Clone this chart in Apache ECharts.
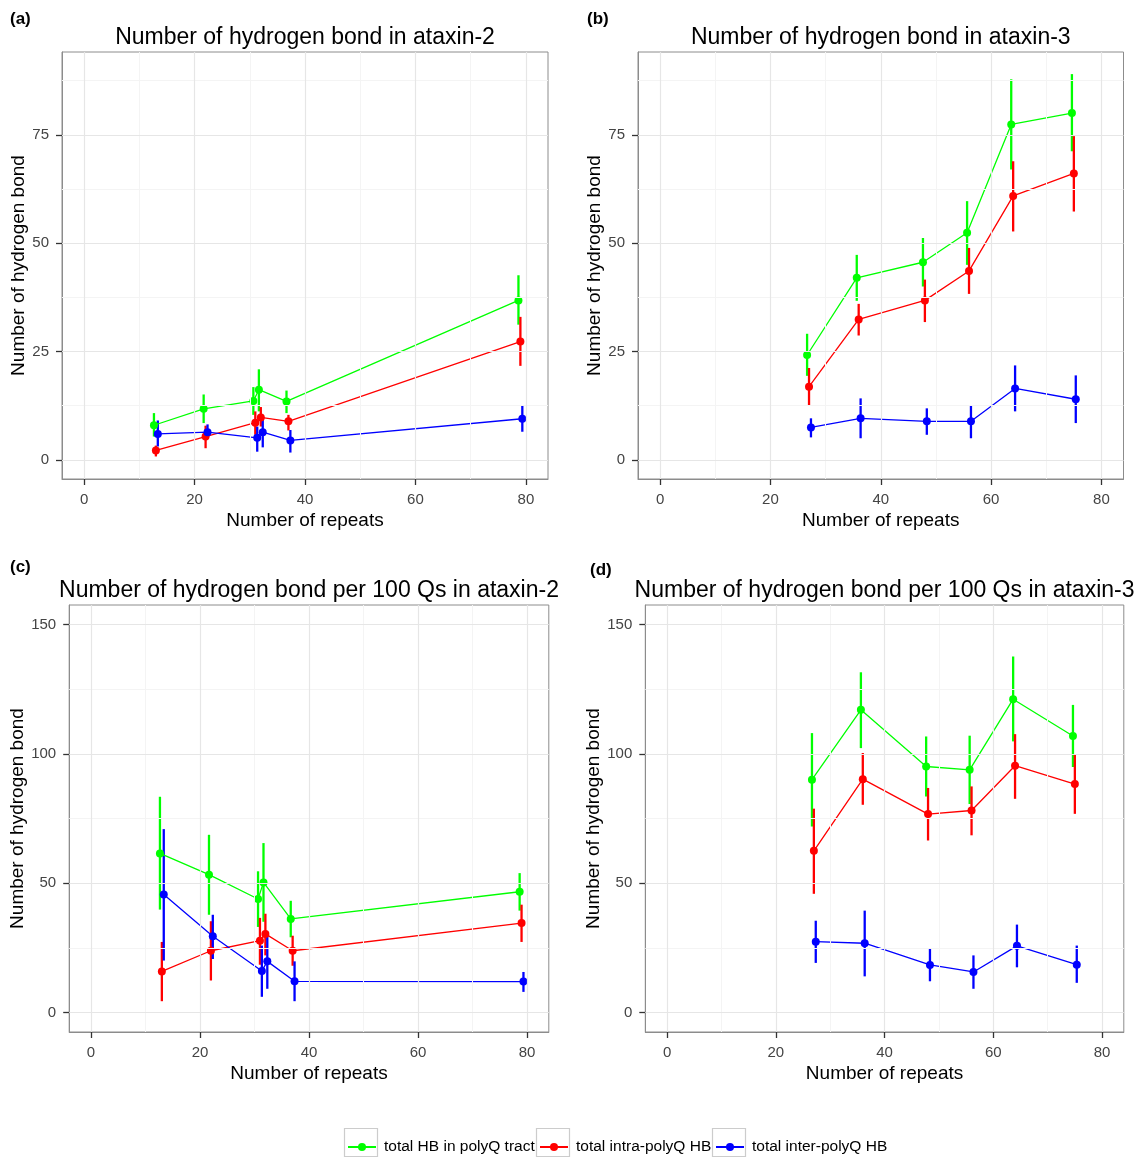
<!DOCTYPE html>
<html>
<head>
<meta charset="utf-8">
<script src="https://cdn.jsdelivr.net/npm/echarts@6/dist/echarts.min.js"></script>
<style>
html,body{margin:0;padding:0;background:#fff;}
#chart{width:1139px;height:1157px;}
</style>
</head>
<body>
<div id="chart"></div>
<script>
// ---------- data ----------
const seriesNames = ['total HB in polyQ tract', 'total intra-polyQ HB', 'total inter-polyQ HB'];
const repeatsAtaxin2 = [13, 22, 31, 32, 37, 79];
const repeatsAtaxin3 = [27, 36, 48, 56, 64, 75];

// (a) Number of hydrogen bond in ataxin-2
const countAtx2TotalMean = [8.0, 11.8, 13.6, 16.2, 13.5, 36.8];
const countAtx2TotalLow  = [5.4, 8.5, 10.4, 11.2, 10.8, 31.2];
const countAtx2TotalHigh = [10.8, 15.1, 16.8, 20.9, 16.0, 42.6];
const countAtx2IntraMean = [2.2, 5.4, 8.6, 9.8, 8.9, 27.3];
const countAtx2IntraLow  = [0.8, 2.7, 5.8, 7.7, 6.8, 21.7];
const countAtx2IntraHigh = [3.3, 7.9, 11.2, 12.2, 10.4, 33.0];
const countAtx2InterMean = [6.0, 6.4, 5.1, 6.4, 4.5, 9.5];
const countAtx2InterLow  = [3.1, 5.4, 1.9, 2.9, 1.7, 6.5];
const countAtx2InterHigh = [9.1, 8.2, 7.7, 9.4, 6.9, 12.5];

// (b) Number of hydrogen bond in ataxin-3
const countAtx3TotalMean = [24.2, 42.0, 45.6, 52.4, 77.4, 80.0];
const countAtx3TotalLow  = [19.4, 36.7, 40.0, 45.0, 67.0, 71.2];
const countAtx3TotalHigh = [29.1, 47.3, 51.2, 59.7, 87.8, 89.0];
const countAtx3IntraMean = [16.9, 32.4, 36.8, 43.6, 60.9, 66.1];
const countAtx3IntraLow  = [12.5, 28.7, 31.8, 38.3, 52.7, 57.3];
const countAtx3IntraHigh = [21.2, 36.0, 41.6, 48.9, 68.9, 74.7];
const countAtx3InterMean = [7.5, 9.6, 8.9, 8.9, 16.5, 14.0];
const countAtx3InterLow  = [5.2, 5.0, 5.8, 5.0, 11.2, 8.5];
const countAtx3InterHigh = [9.6, 14.2, 11.9, 12.5, 21.8, 19.5];

// (c) Number of hydrogen bond per 100 Qs in ataxin-2
const per100Atx2TotalMean = [61.5, 53.3, 43.9, 50.3, 36.2, 46.7];
const per100Atx2TotalLow  = [39.8, 37.8, 33.1, 35.1, 29.1, 39.4];
const per100Atx2TotalHigh = [83.4, 68.7, 54.6, 65.5, 43.2, 53.9];
const per100Atx2IntraMean = [15.9, 23.9, 27.8, 30.4, 23.9, 34.6];
const per100Atx2IntraLow  = [4.4, 12.4, 18.5, 22.1, 18.1, 27.3];
const per100Atx2IntraHigh = [27.3, 35.3, 36.6, 38.2, 29.7, 41.7];
const per100Atx2InterMean = [45.6, 29.5, 16.1, 19.8, 12.1, 12.0];
const per100Atx2InterLow  = [20.1, 20.7, 6.1, 9.2, 4.4, 8.0];
const per100Atx2InterHigh = [70.9, 37.8, 25.9, 29.5, 19.8, 15.7];

// (d) Number of hydrogen bond per 100 Qs in ataxin-3
const per100Atx3TotalMean = [90.0, 117.0, 95.1, 93.8, 121.1, 106.9];
const per100Atx3TotalLow  = [71.9, 102.2, 83.5, 80.6, 104.8, 94.9];
const per100Atx3TotalHigh = [108.0, 131.5, 106.7, 107.0, 137.6, 118.9];
const per100Atx3IntraMean = [62.5, 90.2, 76.7, 78.1, 95.4, 88.3];
const per100Atx3IntraLow  = [45.9, 80.3, 66.5, 68.5, 82.6, 76.8];
const per100Atx3IntraHigh = [78.8, 100.3, 86.8, 87.4, 107.6, 99.6];
const per100Atx3InterMean = [27.4, 26.8, 18.4, 15.7, 25.8, 18.5];
const per100Atx3InterLow  = [19.2, 14.0, 12.1, 9.2, 17.5, 11.5];
const per100Atx3InterHigh = [35.5, 39.4, 24.6, 22.1, 34.0, 25.9];

// tick labels
const xTicks = [0, 20, 40, 60, 80];
const xMinorTicks = [10, 30, 50, 70];
const yTicksCount = [0, 25, 50, 75];
const yMinorCount = [12.5, 37.5, 62.5, 87.5];
const yTicksPer100 = [0, 50, 100, 150];
const yMinorPer100 = [25, 75, 125];

// ---------- styling / layout ----------
const seriesColors = ['#00ff00', '#ff0000', '#0000ff'];
const dodge = [-0.35, 0, 0.35];   // position dodge (x units)
const FONT = '"Liberation Sans", Arial, Helvetica, sans-serif';

const panels = [
  { letter: '(a)', letterPos: [10, 19], title: 'Number of hydrogen bond in ataxin-2',
    grid: { left: 62, top: 52, width: 486, height: 427 },
    repeats: repeatsAtaxin2,
    mean: [countAtx2TotalMean, countAtx2IntraMean, countAtx2InterMean],
    low: [countAtx2TotalLow, countAtx2IntraLow, countAtx2InterLow],
    high: [countAtx2TotalHigh, countAtx2IntraHigh, countAtx2InterHigh],
    yTicks: yTicksCount, yMinor: yMinorCount, yMin: -4.4, yMax: 94.1, yNameGap: 34 },
  { letter: '(b)', letterPos: [587, 19], title: 'Number of hydrogen bond in ataxin-3',
    grid: { left: 638, top: 52, width: 485.5, height: 427 },
    repeats: repeatsAtaxin3,
    mean: [countAtx3TotalMean, countAtx3IntraMean, countAtx3InterMean],
    low: [countAtx3TotalLow, countAtx3IntraLow, countAtx3InterLow],
    high: [countAtx3TotalHigh, countAtx3IntraHigh, countAtx3InterHigh],
    yTicks: yTicksCount, yMinor: yMinorCount, yMin: -4.4, yMax: 94.1, yNameGap: 34 },
  { letter: '(c)', letterPos: [10, 567], title: 'Number of hydrogen bond per 100 Qs in ataxin-2',
    grid: { left: 69.2, top: 605, width: 479.6, height: 427 },
    repeats: repeatsAtaxin2,
    mean: [per100Atx2TotalMean, per100Atx2IntraMean, per100Atx2InterMean],
    low: [per100Atx2TotalLow, per100Atx2IntraLow, per100Atx2InterLow],
    high: [per100Atx2TotalHigh, per100Atx2IntraHigh, per100Atx2InterHigh],
    yTicks: yTicksPer100, yMinor: yMinorPer100, yMin: -7.5, yMax: 157.5, yNameGap: 41 },
  { letter: '(d)', letterPos: [590, 570], title: 'Number of hydrogen bond per 100 Qs in ataxin-3',
    grid: { left: 645.3, top: 605, width: 478.5, height: 427 },
    repeats: repeatsAtaxin3,
    mean: [per100Atx3TotalMean, per100Atx3IntraMean, per100Atx3InterMean],
    low: [per100Atx3TotalLow, per100Atx3IntraLow, per100Atx3InterLow],
    high: [per100Atx3TotalHigh, per100Atx3IntraHigh, per100Atx3InterHigh],
    yTicks: yTicksPer100, yMinor: yMinorPer100, yMin: -7.5, yMax: 157.5, yNameGap: 41 }
];

const legendLefts = [347, 539, 715];
const legendTop = 1139;

const borderColor = '#8c8c8c';
const majorGrid = { color: '#e6e6e6', width: 1.2, type: 'solid' };
const minorGrid = { color: '#f4f4f4', width: 1, type: 'solid' };

// ---------- build option ----------
const grids = [], xAxes = [], yAxes = [], series = [], graphics = [];

panels.forEach((p, i) => {
  grids.push(Object.assign({ show: true, borderColor: borderColor, borderWidth: 1, backgroundColor: '#fff', containLabel: false }, p.grid));

  xAxes.push({
    gridIndex: i, type: 'value', min: -4, max: 84, position: 'bottom',
    axisLine: { show: true, onZero: false, lineStyle: { color: borderColor, width: 1 } },
    axisTick: { show: true, length: 6, customValues: xTicks, lineStyle: { color: '#333', width: 1.3 } },
    axisLabel: { customValues: xTicks, margin: 13, fontSize: 15, color: '#444', fontFamily: FONT },
    splitLine: { show: false },
    name: 'Number of repeats', nameLocation: 'middle', nameGap: 32,
    nameTextStyle: { fontSize: 19, color: '#000', fontFamily: FONT }
  });
  yAxes.push({
    gridIndex: i, type: 'value', min: p.yMin, max: p.yMax, position: 'left',
    axisLine: { show: true, onZero: false, lineStyle: { color: borderColor, width: 1 } },
    axisTick: { show: true, length: 6, customValues: p.yTicks, lineStyle: { color: '#333', width: 1.3 } },
    axisLabel: { customValues: p.yTicks, margin: 13, fontSize: 15, color: '#444', fontFamily: FONT },
    splitLine: { show: false },
    name: 'Number of hydrogen bond', nameLocation: 'middle', nameRotate: 90, nameGap: p.yNameGap,
    nameTextStyle: { fontSize: 19, color: '#000', fontFamily: FONT }
  });

  // grid lines drawn from tick arrays through the axes
  series.push({
    type: 'line', data: [], xAxisIndex: i, yAxisIndex: i, silent: true, z: 1,
    markLine: {
      silent: true, symbol: ['none', 'none'], label: { show: false },
      emphasis: { disabled: true }, animation: false,
      data: [].concat(
        xMinorTicks.map(v => ({ xAxis: v, lineStyle: minorGrid })),
        p.yMinor.map(v => ({ yAxis: v, lineStyle: minorGrid })),
        xTicks.map(v => ({ xAxis: v, lineStyle: majorGrid })),
        p.yTicks.map(v => ({ yAxis: v, lineStyle: majorGrid }))
      )
    }
  });

  // lines + points
  for (let s = 0; s < 3; s++) {
    series.push({
      name: seriesNames[s], type: 'line', xAxisIndex: i, yAxisIndex: i, z: 4,
      data: p.repeats.map((r, k) => [r + dodge[s], p.mean[s][k]]),
      symbol: 'circle', symbolSize: 8, showSymbol: true,
      color: seriesColors[s],
      lineStyle: { color: seriesColors[s], width: 1.3 },
      itemStyle: { color: seriesColors[s] },
      emphasis: { disabled: true }, silent: true
    });
  }
  // error bars
  for (let s = 0; s < 3; s++) {
    series.push({
      name: seriesNames[s], type: 'custom', xAxisIndex: i, yAxisIndex: i, z: 3,
      itemStyle: { color: seriesColors[s] },
      data: p.repeats.map((r, k) => [r + dodge[s], p.mean[s][k], p.low[s][k], p.high[s][k]]),
      encode: { x: 0, y: [2, 3] },
      silent: true,
      renderItem: function (params, api) {
        const x = api.value(0);
        const a = api.coord([x, api.value(2)]);
        const b = api.coord([x, api.value(3)]);
        return {
          type: 'line',
          shape: { x1: a[0], y1: a[1], x2: b[0], y2: b[1] },
          style: { stroke: api.visual('color'), lineWidth: 2.3 }
        };
      }
    });
  }

  // title & panel letter
  graphics.push({
    type: 'text', x: p.grid.left + p.grid.width / 2, y: p.grid.top - 14,
    style: { text: p.title, fill: '#000', font: '23px ' + FONT, textAlign: 'center', textVerticalAlign: 'middle' }
  });
  graphics.push({
    type: 'text', x: p.letterPos[0], y: p.letterPos[1],
    style: { text: p.letter, fill: '#000', font: 'bold 17px ' + FONT, textAlign: 'left', textVerticalAlign: 'middle' }
  });
});

// legend key boxes
legendLefts.forEach(l => {
  graphics.push({
    type: 'rect', z: -1, shape: { x: l - 2.5, y: 1128.5, width: 33, height: 28 },
    style: { fill: '#fff', stroke: '#cccccc', lineWidth: 1.2 }
  });
});

const legends = seriesNames.map((n, i) => ({
  data: [n], left: legendLefts[i], top: legendTop, padding: 0,
  itemWidth: 28, itemHeight: 10, itemGap: 0,
  textStyle: { fontSize: 15.5, color: '#000', fontFamily: FONT, padding: [0, 0, 0, 3] },
  selectedMode: false
}));

const option = {
  animation: false,
  backgroundColor: '#fff',
  grid: grids, xAxis: xAxes, yAxis: yAxes,
  legend: legends,
  series: series,
  graphic: { elements: graphics }
};

const chart = echarts.init(document.getElementById('chart'), null, { renderer: 'canvas' });
chart.setOption(option);
</script>
</body>
</html>
